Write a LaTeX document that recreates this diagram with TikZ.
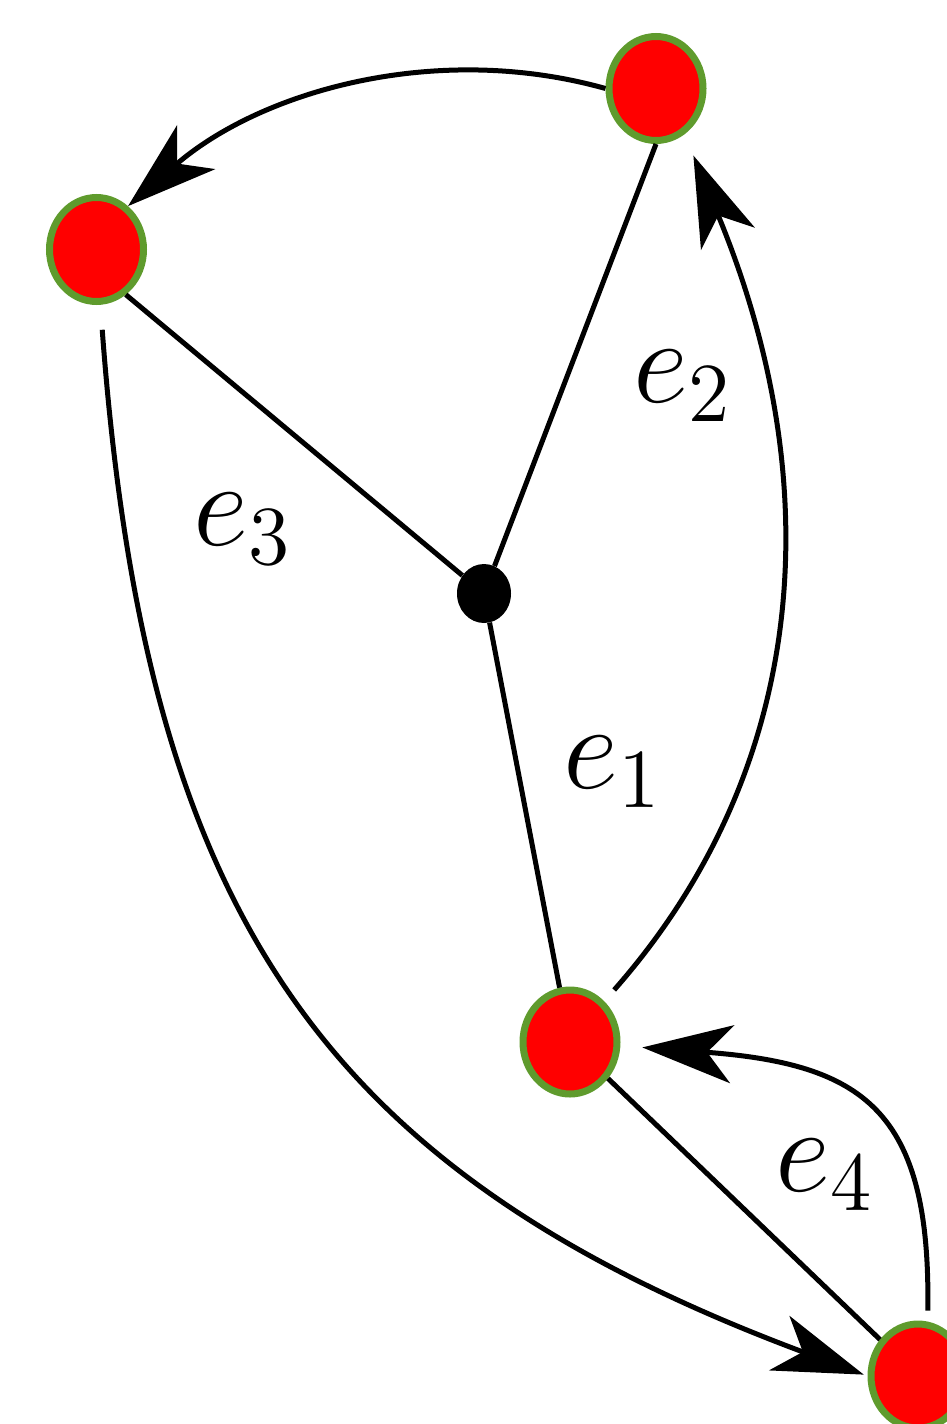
\documentclass[tikz,border=0pt]{standalone}
\usepackage{xcolor}
\definecolor{rimgreen}{RGB}{95,155,45}
\usepackage{tikz}
\usetikzlibrary{shapes.geometric, arrows.meta}

\begin{document}
\begin{tikzpicture}[
  x=1pt, y=-1pt,
  vertex/.style={ellipse, draw=rimgreen, fill=red, line width=7pt,
                 minimum width=94pt, minimum height=104pt, inner sep=0pt},
  hub/.style={ellipse, fill=black, minimum width=54pt, minimum height=59pt,
              inner sep=0pt},
  link/.style={line width=5pt},
  arc/.style={->, line width=5pt,
              >={Stealth[length=90pt, width=58pt, inset=25pt]}},
  elabel/.style={inner sep=0pt, font=\LARGE, scale=7, transform shape},
]
\useasboundingbox (0,0) rectangle (946,1424);

% Nodes
\node[vertex] (top) at (656,88.5) {};
\node[vertex] (left) at (96.5,249.5) {};
\node[hub] (hub) at (484,593.5) {};
\node[vertex] (mid) at (570,1042) {};
\node[vertex] (low) at (918,1376) {};

% Labels
\node[elabel] (e1) at (613.5,772) {$e_1$};
\node[elabel] (e2) at (683,386) {$e_2$};
\node[elabel] (e3) at (243.5,529) {$e_3$};
\node[elabel] (e4) at (825,1175) {$e_4$};

% Edges
\draw[link] (left.-57) -- (hub);
\draw[link] (top.south) -- (hub);
\draw[link] (hub) -- (mid);
\draw[link] (mid) -- (low);

% Arcs (directed)
\draw[arc] (top.west) .. controls (436,41) and (261,91) .. (left.54);
\draw[arc, shorten <=15pt, shorten >=23pt]
  (mid.50) .. controls (806,772) and (832,490) .. (top.-58);
\draw[arc, shorten <=25pt, shorten >=4pt]
  (left.-86) .. controls (145,905) and (315,1170) .. (low.west);
\draw[arc, shorten <=11pt, shorten >=22pt]
  (low.80) .. controls (931,1110) and (863,1064) .. (mid);

\end{tikzpicture}
\end{document}
